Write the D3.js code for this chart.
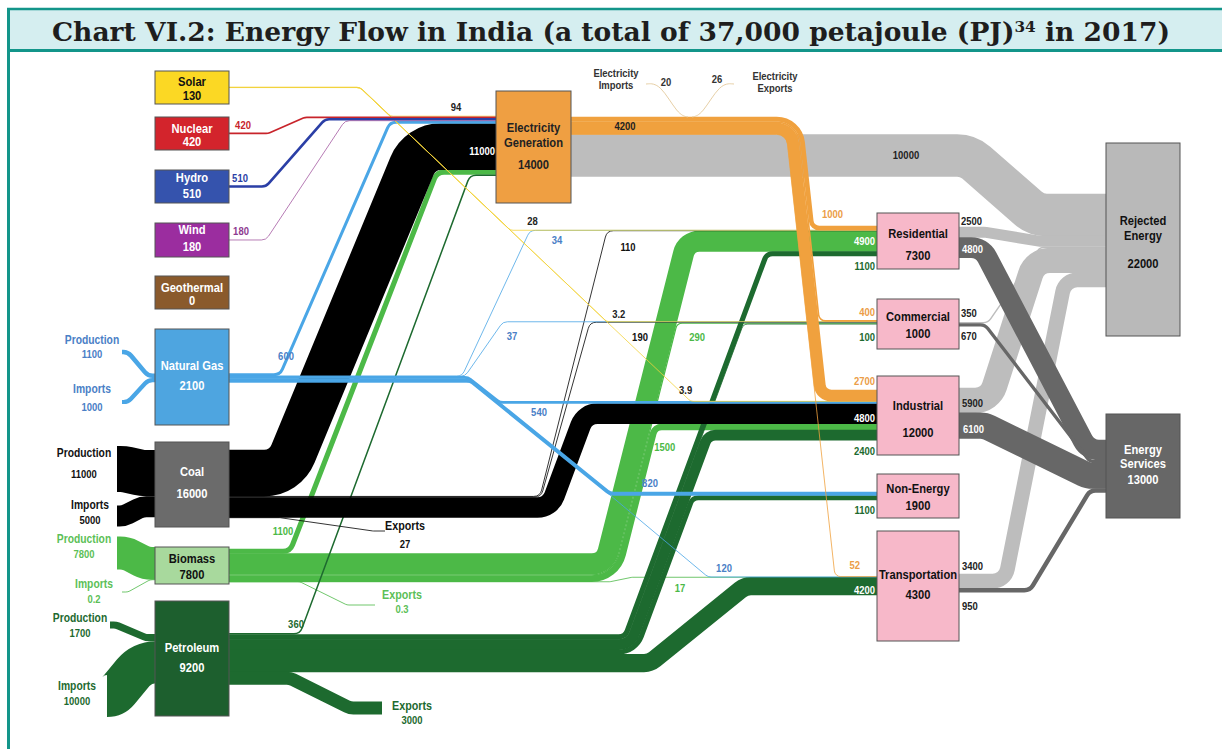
<!DOCTYPE html>
<html>
<head>
<meta charset="utf-8">
<script src="https://cdn.jsdelivr.net/npm/d3@7"></script>
<style>
body { margin: 0; background: #fff; }
svg text { font-family: "Liberation Sans", Arial, sans-serif; font-weight: bold; }
</style>
</head>
<body>
<div id="chart"></div>
<script>
// ---- data (PJ, 2017) ----
var sources = ["Solar", "Nuclear", "Hydro", "Wind", "Geothermal", "Natural Gas", "Coal", "Biomass", "Petroleum"];
var sourceValues = [130, 420, 510, 180, 0, 2100, 16000, 7800, 9200];
var sectors = ["Residential", "Commercial", "Industrial", "Non-Energy", "Transportation"];
var sectorValues = [7300, 1000, 12000, 1900, 4300];
var endUses = ["Rejected Energy", "Energy Services"];
var endUseValues = [22000, 13000];
var generation = ["Electricity Generation", 14000];
var elecImports = 20, elecExports = 26, elecToSectors = 4200;

var supply = [
  ["Natural Gas", "Production", 1100], ["Natural Gas", "Imports", 1000],
  ["Coal", "Production", 11000], ["Coal", "Imports", 5000],
  ["Biomass", "Production", 7800], ["Biomass", "Imports", 0.2],
  ["Petroleum", "Production", 1700], ["Petroleum", "Imports", 10000]
];

var fuelFlows = [
  ["Solar", "Electricity Generation", 94], ["Solar", "Residential", 28],
  ["Solar", "Commercial", 3.2], ["Solar", "Industrial", 3.9],
  ["Nuclear", "Electricity Generation", 420],
  ["Hydro", "Electricity Generation", 510],
  ["Wind", "Electricity Generation", 180],
  ["Natural Gas", "Electricity Generation", 600], ["Natural Gas", "Residential", 34],
  ["Natural Gas", "Commercial", 37], ["Natural Gas", "Industrial", 540],
  ["Natural Gas", "Non-Energy", 820], ["Natural Gas", "Transportation", 120],
  ["Coal", "Electricity Generation", 11000], ["Coal", "Residential", 110],
  ["Coal", "Commercial", 190], ["Coal", "Industrial", 4800], ["Coal", "Exports", 27],
  ["Biomass", "Electricity Generation", 1100], ["Biomass", "Residential", 4900],
  ["Biomass", "Commercial", 290], ["Biomass", "Industrial", 1500],
  ["Biomass", "Transportation", 17], ["Biomass", "Exports", 0.3],
  ["Petroleum", "Electricity Generation", 360], ["Petroleum", "Residential", 1100],
  ["Petroleum", "Commercial", 100], ["Petroleum", "Industrial", 2400],
  ["Petroleum", "Non-Energy", 1100], ["Petroleum", "Transportation", 4200],
  ["Petroleum", "Exports", 3000]
];
var electricityFlows = [
  ["Electricity Generation", "Residential", 1000], ["Electricity Generation", "Commercial", 400],
  ["Electricity Generation", "Industrial", 2700], ["Electricity Generation", "Transportation", 52],
  ["Electricity Generation", "Rejected Energy", 10000]
];
var endUseFlows = [
  ["Residential", "Rejected Energy", 2500], ["Residential", "Energy Services", 4800],
  ["Commercial", "Rejected Energy", 350], ["Commercial", "Energy Services", 670],
  ["Industrial", "Rejected Energy", 5900], ["Industrial", "Energy Services", 6100],
  ["Transportation", "Rejected Energy", 3400], ["Transportation", "Energy Services", 950]
];

// ---- layout ----
var W = 1222, H = 749, SX = 0.86;
var colX = d3.scaleOrdinal().domain([0, 1, 2, 3]).range([155, 496, 877, 1106]);
var colW = d3.scaleOrdinal().domain([0, 1, 2, 3]).range([74, 75, 82, 74]);
var thick = d3.scaleLinear().domain([0, 1000]).range([0, 4.2]);

var nodeLayout = {
  "Solar": { top: 71, bot: 104, out: 87, ly: [-5.5, 8.5] },
  "Nuclear": { top: 117, bot: 150, out: 132.6, ly: [-4.5, 8.5] },
  "Hydro": { top: 170, bot: 203, out: 185.4, ly: [-8.5, 7.5] },
  "Wind": { top: 223, bot: 257, out: 239.6, ly: [-10, 7] },
  "Geothermal": { top: 276, bot: 309, ly: [-4.5, 8.5] },
  "Natural Gas": { top: 329, bot: 425, out: 373.5, inn: 373.5, ly: [-11, 9] },
  "Coal": { top: 442, bot: 527, out: 450, inn: 450, ly: [-12.5, 9.5] },
  "Biomass": { top: 547, bot: 584, out: 549, inn: 547, ly: [-6.5, 9.5] },
  "Petroleum": { top: 601, bot: 716, out: 633, inn: 634, ly: [-10.5, 9.5] },
  "Electricity Generation": { top: 91, bot: 203, out: 117, inn: 116, ly: [-19, -4, 18] },
  "Residential": { top: 213, bot: 269, out: 227, inn: 226, ly: [-7, 15] },
  "Commercial": { top: 299, bot: 349, out: 322, inn: 320, ly: [-7, 10] },
  "Industrial": { top: 376, bot: 455, out: 388, inn: 390, ly: [-9.5, 17.5] },
  "Non-Energy": { top: 474, bot: 518, inn: 492, ly: [-7, 10] },
  "Transportation": { top: 531, bot: 641, out: 574, inn: 576.5, ly: [-11, 9] },
  "Rejected Energy": { top: 143, bot: 336, inn: 194, ly: [-18.5, -3.5, 24.5] },
  "Energy Services": { top: 414, bot: 518, inn: 440, ly: [-16, -2, 14] }
};

var style = {
  "Solar": { fill: "#fbd824", text: "#111", flow: "#f2d33c", lab: "#222" },
  "Nuclear": { fill: "#d3242c", text: "#fff", flow: "#c8242b", lab: "#c8242b" },
  "Hydro": { fill: "#3553ad", text: "#fff", flow: "#2b3fa6", lab: "#2b3fa6" },
  "Wind": { fill: "#9b2d9f", text: "#fff", flow: "#a45aa2", lab: "#8e3a90" },
  "Geothermal": { fill: "#8a5a2c", text: "#fff" },
  "Natural Gas": { fill: "#4ea5e0", text: "#fff", flow: "#4aa6e6", lab: "#4a80c6" },
  "Coal": { fill: "#6b6b6b", text: "#fff", flow: "#000", lab: "#111" },
  "Biomass": { fill: "#a8d99d", text: "#111", flow: "#4cb947", lab: "#4cb947" },
  "Petroleum": { fill: "#1d5f2e", text: "#fff", flow: "#1d6a2f", lab: "#1d6a2f" },
  "Electricity Generation": { fill: "#ef9f42", text: "#222", flow: "#f0a13e", lab: "#eb9d47" },
  "Residential": { fill: "#f7b8c9", text: "#111" },
  "Commercial": { fill: "#f7b8c9", text: "#111" },
  "Industrial": { fill: "#f7b8c9", text: "#111" },
  "Non-Energy": { fill: "#f7b8c9", text: "#111" },
  "Transportation": { fill: "#f7b8c9", text: "#111" },
  "Rejected Energy": { fill: "#b9b9b9", text: "#111", flow: "#bdbdbd" },
  "Energy Services": { fill: "#676767", text: "#fff", flow: "#676767" }
};

// diagonal groups that share one slanted band (r = corner radius of reference sub-band)
var groups = {
  solar: { x: 360, y: 87.3, k: 1.054, r: 8 },
  elec: { x: 800, y: 119.1, k: 0.11, r: 26 },
  bio: { x: 605, y: 563.9, k: 0.253, r: 17 },
  pet: { x: 625, y: 636.8, k: 0.37, r: 9 }
};

var routes = {
  "Solar>Electricity Generation": { g: "solar", lab: ["t", -40, -5, "middle"] },
  "Solar>Residential": { g: "solar", lab: ["b", 22, -5, "middle"] },
  "Solar>Commercial": { g: "solar", lab: ["b", 12, -4, "middle"] },
  "Solar>Industrial": { g: "solar", lab: ["b", -5, -7, "middle"] },
  "Nuclear>Electricity Generation": { a: 268, b: 305, lab: ["s", 14, -4, "middle"] },
  "Hydro>Electricity Generation": { a: 266, b: 325, lab: ["s", 11, -4, "middle"] },
  "Wind>Electricity Generation": { a: 266, b: 345, lab: ["s", 12, -5, "middle"] },
  "Natural Gas>Electricity Generation": { a: 280, b: 390, lab: ["a", 6, -15, "middle"] },
  "Natural Gas>Residential": { a: 462, b: 530, lab: ["b", 27, 14, "middle"] },
  "Natural Gas>Commercial": { a: 465, b: 503, lab: ["b", 9, 18, "middle"] },
  "Natural Gas>Industrial": { a: 468, b: 500, lab: ["b", 39, 14, "middle"] },
  "Natural Gas>Non-Energy": { a: 470, b: 610, lab: ["b", 40, -7, "middle"] },
  "Natural Gas>Transportation": { a: 475, b: 708, lab: ["b", 16, -5, "middle"] },
  "Coal>Electricity Generation": { a: 285, b: 420, lab: ["t", -1, 8, "end", "#fff"] },
  "Coal>Residential": { a: 540, b: 607, lab: ["b", 21, 20, "middle"] },
  "Coal>Commercial": { a: 541, b: 590, lab: ["b", 50, 19, "middle"] },
  "Coal>Industrial": { a: 550, b: 585, lab: ["t", -2, 8, "end", "#fff"] },
  "Coal>Exports": { a: 280, b: 373, end: [385, 531], ex: [20, -1, 17] },
  "Biomass>Electricity Generation": { a: 290, b: 437, lab: ["a", -7, -16, "middle"] },
  "Biomass>Residential": { g: "bio", lab: ["t", -2, 4, "end", "#fff"] },
  "Biomass>Commercial": { g: "bio", lab: ["b", 20, 18, "middle"] },
  "Biomass>Industrial": { g: "bio", lab: ["b", 10, 24, "middle"] },
  "Biomass>Transportation": { a: 610, b: 632, lab: ["b", 48, 15, "middle"] },
  "Biomass>Exports": { a: 300, b: 347, end: [375, 605], ex: [27, -6, 8] },
  "Petroleum>Electricity Generation": { a: 300, b: 470, lab: ["a", -4, -6, "middle"] },
  "Petroleum>Residential": { g: "pet", lab: ["t", -2, 16, "end"] },
  "Petroleum>Commercial": { g: "pet", lab: ["t", -2, 17, "end"] },
  "Petroleum>Industrial": { g: "pet", lab: ["t", -2, 20, "end"] },
  "Petroleum>Non-Energy": { g: "pet", lab: ["t", -2, 16, "end"] },
  "Petroleum>Transportation": { a: 650, b: 745, lab: ["t", -2, 8, "end", "#fff"] },
  "Petroleum>Exports": { a: 290, b: 350, end: [382, 708], ex: [30, 2, 16] },
  "Electricity Generation>Residential": { g: "elec", lab: ["t", -34, -10, "end"] },
  "Electricity Generation>Commercial": { g: "elec", lab: ["t", -2, -5, "end"] },
  "Electricity Generation>Industrial": { g: "elec", lab: ["t", -2, -11, "end"] },
  "Electricity Generation>Transportation": { g: "elec", lab: ["t", -17, -8, "end"] },
  "Electricity Generation>Rejected Energy": { a: 968, b: 1036, lab: ["s", 335, 4, "middle", "#222"] },
  "Residential>Rejected Energy": { a: 985, b: 1040, lab: ["s", 2, -7, "start", "#222"] },
  "Residential>Energy Services": { a: 982, b: 1088, lab: ["s", 3, 5, "start", "#fff"] },
  "Commercial>Rejected Energy": { a: 988, b: 1040, lab: ["s", 2, -6, "start", "#222"] },
  "Commercial>Energy Services": { a: 985, b: 1090, lab: ["s", 2, 15, "start", "#222"] },
  "Industrial>Rejected Energy": { a: 990, b: 1035, lab: ["s", 3, 7, "start", "#222"] },
  "Industrial>Energy Services": { a: 985, b: 1088, lab: ["s", 4, 7, "start", "#fff"] },
  "Transportation>Rejected Energy": { a: 1005, b: 1065, lab: ["s", 3, -11, "start", "#222"] },
  "Transportation>Energy Services": { a: 1030, b: 1090, lab: ["s", 3, 20, "start", "#222"] }
};

var supplyLayout = {
  "Natural Gas>Production": { s: [122, 352], a: 128, b: 148, lab: [-30, -8, 6] },
  "Natural Gas>Imports": { s: [122, 402], a: 128, b: 148, lab: [-30, -9, 9] },
  "Coal>Production": { s: [117, 469], a: 124, b: 142, lab: [-33, -12, 9] },
  "Coal>Imports": { s: [117, 516], a: 124, b: 142, lab: [-27, -7, 8] },
  "Biomass>Production": { s: [117, 553], a: 126, b: 146, lab: [-33, -10, 5] },
  "Biomass>Imports": { s: [122, 592], a: 128, b: 150, lab: [-28, -4, 11] },
  "Petroleum>Production": { s: [110, 625], a: 116, b: 146, lab: [-30, -3, 12] },
  "Petroleum>Imports": { s: [107, 696], a: 114, b: 142, lab: [-30, -6, 9] }
};

// ---- build nodes ----
var nodes = {};
function addNode(name, value, col) {
  var L = nodeLayout[name];
  nodes[name] = { name: name, value: value, col: col, x: colX(col), w: colW(col),
    top: L.top, bot: L.bot, out: L.out, inn: L.inn, ly: L.ly };
}
sources.forEach(function (s, i) { addNode(s, sourceValues[i], 0); });
addNode(generation[0], generation[1], 1);
sectors.forEach(function (s, i) { addNode(s, sectorValues[i], 2); });
endUses.forEach(function (s, i) { addNode(s, endUseValues[i], 3); });

var links = fuelFlows.concat(electricityFlows, endUseFlows).map(function (f) {
  return { source: f[0], target: f[1], value: f[2], key: f[0] + ">" + f[1] };
});

// stack on the source side (order as listed)
var outCur = {};
links.forEach(function (l) {
  var n = nodes[l.source];
  if (outCur[l.source] == null) outCur[l.source] = n.out;
  l.y0 = outCur[l.source] + thick(l.value) / 2;
  outCur[l.source] += thick(l.value);
  l.x0 = n.x + n.w;
});

// stack on the target side (by source order)
var inOrder = ["Electricity Generation"].concat(sources, sectors);
var inCur = {};
links.filter(function (l) { return nodes[l.target]; })
  .sort(function (a, b) { return inOrder.indexOf(a.source) - inOrder.indexOf(b.source); })
  .forEach(function (l) {
    var n = nodes[l.target];
    if (inCur[l.target] == null) inCur[l.target] = n.inn;
    l.y1 = inCur[l.target] + thick(l.value) / 2;
    inCur[l.target] += thick(l.value);
    l.x1 = n.x;
  });

links.forEach(function (l) {
  var R = l.route = routes[l.key];
  l.w = Math.max(thick(l.value), 0.8);
  if (R.end) { l.x1 = R.end[0]; l.y1 = R.end[1]; }
  if (R.g) {
    // sub-bands of a shared diagonal: shift corners so bands stay parallel,
    // and make the first corner concentric
    var g = groups[R.g];
    var dir = l.y1 < l.y0 ? 1 : -1;
    var th = Math.atan(1 / g.k), d = l.y0 - g.y;
    l.xa = g.x + d * dir * Math.tan(th / 2);
    l.xb = l.xa + Math.abs(l.y1 - l.y0) * g.k;
    l.r1 = g.r + dir * d;
    l.r2 = l.w / 2 + 6;
  } else {
    l.xa = R.a; l.xb = R.b;
    l.r1 = l.r2 = l.w / 2 + 8;
  }
});

function bend(x0, y0, xa, xb, y1, x1, ra, rb) {
  var p = d3.path();
  p.moveTo(x0, y0);
  if (Math.abs(y1 - y0) < 0.3) { p.lineTo(x1, y1); return p.toString(); }
  var dx = xb - xa, dy = y1 - y0, L = Math.hypot(dx, dy);
  var t = Math.tan(Math.atan2(Math.abs(dy), dx) / 2);
  var r1 = Math.min(ra, Math.max(0, Math.min(xa - x0, L / 2)) / t);
  var r2 = Math.min(rb, Math.max(0, Math.min(x1 - xb, L / 2)) / t);
  if (r1 > 0.5) p.arcTo(xa, y0, xb, y1, r1); else p.lineTo(xa, y0);
  if (r2 > 0.5) p.arcTo(xb, y1, x1, y1, r2); else p.lineTo(xb, y1);
  p.lineTo(x1, y1);
  return p.toString();
}

function flowColor(l) {
  if (l.target === "Rejected Energy") return style["Rejected Energy"].flow;
  if (l.target === "Energy Services") return style["Energy Services"].flow;
  return style[l.source].flow;
}
function layer(l) {
  if (l.target === "Rejected Energy") return 0;
  if (l.target === "Energy Services") return 7;
  return { "Biomass": 1, "Petroleum": 2, "Coal": 3, "Natural Gas": 4, "Electricity Generation": 6 }[l.source] || 5;
}
// narrow bold text (the original uses a condensed face)
function narrow(sel, x) {
  return sel.attr("transform", "translate(" + x + ",0) scale(" + SX + ",1)");
}

// ---- svg ----
var svg = d3.select("#chart").append("svg")
  .attr("width", W).attr("height", H);

// frame and title band
svg.append("rect").attr("x", 8).attr("y", 9).attr("width", W - 8).attr("height", 41)
  .attr("fill", "#d5eef0");
svg.append("line").attr("x1", 7).attr("x2", W).attr("y1", 9).attr("y2", 9)
  .attr("stroke", "#13958a").attr("stroke-width", 2.5);
svg.append("line").attr("x1", 7).attr("x2", W).attr("y1", 50.5).attr("y2", 50.5)
  .attr("stroke", "#13958a").attr("stroke-width", 3);
svg.append("line").attr("x1", 8.5).attr("x2", 8.5).attr("y1", 8).attr("y2", H)
  .attr("stroke", "#13958a").attr("stroke-width", 3);

var title = svg.append("text")
  .attr("x", 52).attr("y", 41)
  .attr("textLength", 1118).attr("lengthAdjust", "spacingAndGlyphs")
  .style("font-family", "'DejaVu Serif', 'Liberation Serif', serif")
  .style("font-size", "26px").attr("fill", "#1e1e1e");
title.append("tspan").text("Chart VI.2: Energy Flow in India (a total of 37,000 petajoule (PJ)");
title.append("tspan").attr("dy", -9).style("font-size", "15px").text("34");
title.append("tspan").attr("dy", 9).text(" in 2017)");

var gFlows = svg.append("g").attr("fill", "none");
var gLab = svg.append("g").style("font-size", "11px");

// supply stubs into the primary boxes
var inSup = {};
supply.forEach(function (s) {
  var n = nodes[s[0]], L = supplyLayout[s[0] + ">" + s[1]];
  if (inSup[s[0]] == null) inSup[s[0]] = n.inn;
  var y1 = inSup[s[0]] + thick(s[2]) / 2;
  inSup[s[0]] += thick(s[2]);
  var w = Math.max(thick(s[2]), 0.8);
  gFlows.append("path")
    .attr("d", bend(L.s[0], L.s[1], L.a, L.b, y1, n.x + 1, w / 2 + 8, w / 2 + 8))
    .attr("stroke", style[s[0]].flow)
    .attr("stroke-width", w);
  var t = narrow(gLab.append("text"), L.s[0] + L.lab[0]).attr("text-anchor", "middle")
    .attr("fill", s[0] === "Biomass" ? "#5cbf57" : style[s[0]].lab)
    .style("font-size", "12px");
  t.append("tspan").attr("x", 0).attr("y", L.s[1] + L.lab[1]).text(s[1]);
  t.append("tspan").attr("x", 0).attr("y", L.s[1] + L.lab[2])
    .style("font-size", "11px").text(s[2]);
});

var sorted = links.slice().sort(function (a, b) { return layer(a) - layer(b); });
gFlows.selectAll("path.flow")
  .data(sorted)
  .enter().append("path")
  .attr("class", "flow")
  .attr("d", function (l) { return bend(l.x0, l.y0, l.xa, l.xb, l.y1, l.x1, l.r1, l.r2); })
  .attr("stroke", flowColor)
  // a hair of overlap hides anti-aliasing seams between stacked bands
  .attr("stroke-width", function (l) { return l.w > 2 ? l.w + 0.5 : l.w; });

// electricity trade wave
var eTop = nodes["Electricity Generation"].out, cx = 690;
var wave = d3.line().curve(d3.curveBasis);
gFlows.append("path")
  .attr("d", wave([[cx - 44, eTop - 33], [cx - 30, eTop - 34], [cx - 12, eTop - 2], [cx - 2, eTop]]))
  .attr("stroke", "#e3c99c").attr("stroke-width", Math.max(thick(elecImports), 0.9));
gFlows.append("path")
  .attr("d", wave([[cx + 2, eTop], [cx + 12, eTop - 2], [cx + 30, eTop - 34], [cx + 44, eTop - 33]]))
  .attr("stroke", "#e3c99c").attr("stroke-width", Math.max(thick(elecExports), 0.9));

// nodes
var gNodes = svg.append("g");
var nodeList = Object.keys(nodes).map(function (k) { return nodes[k]; });
gNodes.selectAll("rect")
  .data(nodeList)
  .enter().append("rect")
  .attr("x", function (n) { return n.x; })
  .attr("y", function (n) { return n.top; })
  .attr("width", function (n) { return n.w; })
  .attr("height", function (n) { return n.bot - n.top; })
  .attr("fill", function (n) { return style[n.name].fill; })
  .attr("stroke", "#555").attr("stroke-width", 1);

nodeList.forEach(function (n) {
  var lines = (n.ly.length === 3 ? n.name.split(" ") : [n.name]).concat([String(n.value)]);
  var cy = (n.top + n.bot) / 2;
  var t = narrow(gNodes.append("text"), n.x + n.w / 2).attr("text-anchor", "middle")
    .attr("fill", style[n.name].text).style("font-size", "13px");
  lines.forEach(function (s, i) {
    t.append("tspan").attr("x", 0).attr("y", cy + n.ly[i])
      .attr("dominant-baseline", "central").text(s);
  });
});
gNodes.raise();
gLab.raise();

// flow value labels
links.forEach(function (l) {
  var R = l.route;
  if (R.lab) {
    var ref = { s: [l.x0, l.y0], a: [l.xa, l.y0], b: [l.xb, l.y1], t: [l.x1, l.y1] }[R.lab[0]];
    narrow(gLab.append("text"), ref[0] + R.lab[1])
      .attr("x", 0).attr("y", ref[1] + R.lab[2])
      .attr("text-anchor", R.lab[3])
      .attr("fill", R.lab[4] || style[l.source].lab)
      .text(l.value);
  }
  if (R.ex) {
    var t = narrow(gLab.append("text"), l.x1 + R.ex[0]).attr("text-anchor", "middle")
      .attr("fill", l.source === "Biomass" ? "#5cbf57" : style[l.source].lab)
      .style("font-size", "12.5px");
    t.append("tspan").attr("x", 0).attr("y", l.y1 + R.ex[1]).text("Exports");
    t.append("tspan").attr("x", 0).attr("y", l.y1 + R.ex[2])
      .style("font-size", "11px").text(l.value);
  }
});

// electricity totals and trade labels
var eRight = nodes["Electricity Generation"].x + nodes["Electricity Generation"].w;
narrow(gLab.append("text"), eRight + 54).attr("y", eTop + thick(elecToSectors) / 2 + 4)
  .attr("text-anchor", "middle").attr("fill", "#222").text(elecToSectors);
var trade = [
  ["Electricity", -74, -40], ["Imports", -74, -28], [elecImports, -24, -31],
  [elecExports, 27, -34], ["Electricity", 85, -37], ["Exports", 85, -25]
];
trade.forEach(function (d) {
  narrow(gLab.append("text"), cx + d[1]).attr("y", eTop + d[2])
    .attr("text-anchor", "middle").attr("fill", "#333").text(d[0]);
});
</script>
</body>
</html>
